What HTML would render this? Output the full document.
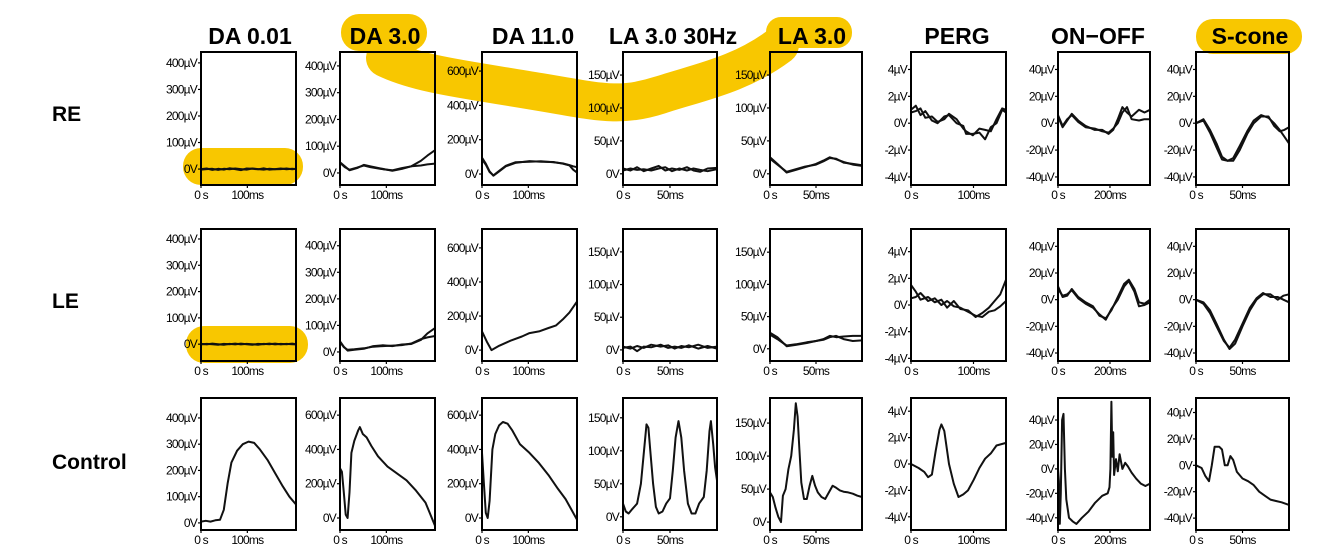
<!DOCTYPE html>
<html><head><meta charset="utf-8">
<style>
html,body{margin:0;padding:0;background:#fff;}
svg{display:block;}
.t{font-family:"Liberation Sans",sans-serif;font-weight:bold;font-size:23px;fill:#000;}
.r{font-family:"Liberation Sans",sans-serif;font-weight:bold;font-size:21px;fill:#000;}
.k{font-family:"Liberation Sans",sans-serif;font-size:12px;fill:#000;letter-spacing:-0.8px;}
</style></head>
<body>
<svg id="fig" width="1334" height="554" viewBox="0 0 1334 554">
  <g fill="#f8c700" stroke="none">
    <path d="M385,58 C420,75 470,80 540,92 C600,102 620,108 660,95 C700,82 740,75 780,45" fill="none" stroke="#f8c700" stroke-width="38" stroke-linecap="round"/>
    <rect x="341" y="14" width="86" height="37" rx="18"/>
    <rect x="766" y="17" width="86" height="31" rx="15"/>
    <rect x="1196" y="19" width="106" height="35" rx="17"/>
    <rect x="183" y="148" width="120" height="37" rx="18"/>
    <rect x="186" y="326" width="122" height="37" rx="18"/>
  </g>
  <g id="titleLayer">
    <text class="t" x="250" y="44" text-anchor="middle">DA 0.01</text>
    <text class="t" x="385" y="44" text-anchor="middle">DA 3.0</text>
    <text class="t" x="533" y="44" text-anchor="middle">DA 11.0</text>
    <text class="t" x="673" y="44" text-anchor="middle">LA 3.0 30Hz</text>
    <text class="t" x="812" y="44" text-anchor="middle">LA 3.0</text>
    <text class="t" x="957" y="44" text-anchor="middle">PERG</text>
    <text class="t" x="1098" y="44" text-anchor="middle">ON−OFF</text>
    <text class="t" x="1250" y="44" text-anchor="middle">S-cone</text>
    <text class="r" x="52" y="121">RE</text>
    <text class="r" x="52" y="308">LE</text>
    <text class="r" x="52" y="469">Control</text>
  </g>
  <g id="panelLayer"></g>
</svg>
<script>
var xTickLabels = ["100ms","100ms","100ms","50ms","50ms","100ms","200ms","50ms"];
var xTickValues = [100,100,100,50,50,100,200,50];
var sweepMs = [205,205,205,100,100,152,354,100];
var rowNames = ["re","le","control"];

var yTicksRow1 = [[0,100,200,300,400],[0,100,200,300,400],[0,200,400,600],[0,50,100,150],[0,50,100,150],[-4,-2,0,2,4],[-40,-20,0,20,40],[-40,-20,0,20,40]];
var yTicksRow3 = [[0,100,200,300,400],[0,200,400,600],[0,200,400,600],[0,50,100,150],[0,50,100,150],[-4,-2,0,2,4],[-40,-20,0,20,40],[-40,-20,0,20,40]];

var domRow1 = [[-60,441],[-45,452],[-64,711],[-17,185],[-17,185],[-4.6,5.3],[-46,53],[-46,53]];
var domRow2 = [[-64,438],[-34,463],[-64,711],[-17,185],[-19,186],[-4.2,5.7],[-46,53],[-46,53]];
var domRow3 = [[-27,476],[-70,700],[-70,700],[-20,180],[-12,188],[-5,5],[-50,58],[-49,51]];

var re1a=[[0,0],[6,2],[12,-3],[18,1],[24,-2],[30,3],[36,0],[42,-4],[48,2],[54,1],[60,-1],[66,3],[72,-2],[78,0],[84,2],[90,-1],[96,1],[100,0]];
var re1b=[[0,-2],[6,0],[12,1],[18,-3],[24,1],[30,-1],[36,2],[42,0],[48,-2],[54,2],[60,0],[66,-2],[72,1],[78,-1],[84,0],[90,2],[96,-1],[100,1]];
var re2a=[[0,40],[5,25],[10,10],[18,18],[25,30],[32,25],[45,15],[55,8],[65,15],[75,25],[85,45],[92,65],[100,85]];
var re2b=[[0,38],[5,22],[10,12],[18,20],[25,28],[32,22],[45,14],[55,10],[65,18],[75,25],[85,28],[92,32],[100,35]];
var re3a=[[0,95],[4,60],[8,15],[12,-10],[18,15],[25,45],[35,65],[50,75],[62,72],[75,70],[85,60],[92,50],[96,25],[100,8]];
var re3b=[[0,85],[4,55],[8,12],[12,-8],[18,18],[25,48],[35,68],[50,72],[62,74],[75,68],[85,62],[92,52],[96,45],[100,40]];
var re4a=[[0,8],[8,5],[15,10],[22,4],[30,8],[38,12],[45,5],[52,8],[60,6],[68,10],[75,5],[82,3],[90,8],[100,9]];
var re4b=[[0,5],[8,8],[15,6],[22,7],[30,5],[38,8],[45,10],[52,4],[60,8],[68,5],[75,8],[82,6],[90,4],[100,7]];
var re5a=[[0,25],[8,15],[18,2],[28,6],[38,10],[50,15],[58,20],[65,25],[72,22],[80,18],[90,14],[100,12]];
var re5b=[[0,23],[8,14],[18,3],[28,7],[38,11],[50,14],[58,19],[65,24],[72,23],[80,17],[90,15],[100,13]];
var re6a=[[0,1],[5,1.3],[10,0.6],[15,0.9],[22,0.2],[28,0],[35,0.5],[40,0.6],[48,0],[55,-0.2],[58,-0.8],[65,-0.8],[72,-0.7],[78,-1.2],[84,-0.3],[90,0],[96,1],[100,0.8]];
var re6b=[[0,0.8],[5,0.9],[10,1.1],[15,0.4],[22,0.5],[28,0.1],[35,0.3],[40,0.7],[48,0.3],[55,-0.4],[58,-0.6],[65,-0.9],[72,-0.4],[78,-0.5],[84,-0.6],[90,0.3],[96,1.1],[100,1]];
var re7a=[[0,5],[5,-3],[10,2],[15,7],[22,2],[30,-2],[40,-5],[48,-5],[55,-8],[60,-5],[65,3],[70,12],[75,8],[80,5],[88,10],[94,8],[100,10]];
var re7b=[[0,6],[5,-2],[10,3],[15,6],[22,1],[30,-3],[40,-4],[48,-6],[55,-7],[60,-4],[65,0],[70,8],[75,12],[80,3],[88,2],[94,3],[100,3]];
var re8a=[[0,0],[8,3],[15,-5],[22,-15],[28,-25],[34,-28],[40,-28],[47,-20],[55,-8],[62,0],[70,5],[78,5],[84,-2],[90,-6],[95,-5],[100,-3]];
var re8b=[[0,0],[8,2],[15,-7],[22,-18],[28,-27],[34,-28],[40,-26],[47,-17],[55,-6],[62,2],[70,6],[78,4],[84,0],[90,-5],[95,-10],[100,-15]];
var le1a=[[0,1],[6,-1],[12,2],[18,0],[24,-2],[30,1],[36,-1],[42,2],[48,0],[54,-2],[60,1],[66,0],[72,2],[78,-1],[84,1],[90,0],[96,2],[100,0]];
var le1b=[[0,-1],[6,1],[12,0],[18,-2],[24,1],[30,0],[36,2],[42,-1],[48,1],[54,0],[60,-2],[66,1],[72,0],[78,2],[84,-1],[90,1],[96,0],[100,-1]];
var le2a=[[0,40],[4,20],[8,5],[15,8],[25,12],[35,22],[45,25],[55,22],[65,28],[75,30],[85,45],[92,70],[100,90]];
var le2b=[[0,38],[4,18],[8,8],[15,10],[25,14],[35,20],[45,22],[55,24],[65,26],[75,32],[85,48],[92,55],[100,60]];
var le3a=[[0,110],[5,50],[10,0],[18,25],[30,55],[42,80],[50,100],[60,110],[70,130],[78,145],[85,180],[92,220],[100,285]];
var le4a=[[0,5],[8,2],[15,6],[22,3],[30,8],[40,5],[48,7],[55,2],[62,6],[70,4],[80,8],[90,3],[100,5]];
var le4b=[[0,3],[8,5],[15,-2],[22,5],[30,4],[40,8],[48,3],[55,5],[62,3],[70,7],[80,2],[90,6],[100,2]];
var le5a=[[0,25],[8,18],[18,4],[28,6],[40,9],[50,12],[58,15],[65,20],[72,18],[80,19],[90,20],[100,20]];
var le5b=[[0,22],[8,15],[18,5],[28,7],[40,10],[50,12],[58,14],[65,18],[72,20],[80,15],[90,12],[100,13]];
var le6a=[[0,1.5],[5,1],[10,0.4],[18,0.6],[25,0.2],[32,0.4],[38,-0.2],[45,0.3],[52,-0.3],[60,-0.4],[68,-0.9],[75,-0.6],[82,-0.2],[88,0.3],[94,0.8],[100,1.9]];
var le6b=[[0,0.5],[5,0.6],[10,0.9],[18,0.3],[25,0.5],[32,0],[38,0.3],[45,-0.1],[52,-0.2],[60,-0.5],[68,-0.8],[75,-0.9],[82,-0.5],[88,-0.4],[94,-0.1],[100,0.3]];
var le7a=[[0,10],[5,2],[10,3],[15,8],[22,2],[30,-2],[38,-5],[45,-12],[52,-14],[58,-8],[65,2],[72,12],[77,15],[83,8],[88,-2],[94,-3],[100,0]];
var le7b=[[0,8],[5,3],[10,4],[15,7],[22,1],[30,-3],[38,-6],[45,-11],[52,-15],[58,-7],[65,0],[72,10],[77,14],[83,6],[88,-5],[94,-4],[100,-2]];
var le8a=[[0,0],[8,-2],[15,-8],[22,-18],[30,-30],[36,-37],[42,-33],[50,-20],[58,-8],[65,0],[72,4],[80,4],[88,0],[94,3],[100,4]];
var le8b=[[0,0],[8,-3],[15,-10],[22,-20],[30,-31],[36,-36],[42,-30],[50,-18],[58,-6],[65,1],[72,5],[80,2],[88,2],[94,0],[100,-2]];
var ct1=[[0,5],[5,8],[10,5],[15,10],[20,12],[24,50],[28,150],[32,230],[38,275],[44,300],[50,310],[56,305],[62,280],[70,240],[78,190],[86,140],[93,100],[100,70]];
var ct2=[[0,290],[2,270],[4,150],[6,20],[8,0],[10,150],[12,380],[15,450],[19,510],[21,530],[24,490],[28,470],[33,420],[40,360],[50,300],[60,260],[70,220],[80,160],[90,90],[100,-45]];
var ct3=[[0,380],[2,200],[4,30],[6,0],[8,100],[11,400],[14,490],[18,540],[22,560],[27,550],[32,510],[40,430],[50,380],[60,320],[70,250],[80,170],[88,110],[94,50],[100,-10]];
var ct4=[[0,20],[3,8],[6,5],[10,12],[15,20],[19,50],[22,95],[25,140],[27,135],[29,100],[32,50],[35,15],[38,5],[42,8],[46,20],[50,28],[53,70],[56,120],[59,145],[62,120],[65,70],[69,20],[73,5],[77,5],[81,20],[86,30],[89,70],[92,130],[93.5,145],[96,110],[98,75],[100,55]];
var ct5=[[0,45],[3,38],[6,22],[9,8],[12,0],[14,40],[17,50],[20,80],[23,100],[26,140],[28,180],[30,160],[32,110],[34,60],[37,35],[40,35],[43,55],[46,70],[49,55],[52,45],[56,38],[60,35],[64,45],[68,55],[72,52],[76,48],[80,46],[85,45],[90,43],[95,40],[100,38]];
var ct6=[[0,0],[8,-0.3],[14,-0.6],[18,-1],[22,-0.8],[26,1],[30,2.6],[32,3],[35,2.5],[40,0],[45,-1.5],[50,-2.5],[55,-2.3],[60,-2],[66,-1.2],[72,-0.3],[78,0.4],[84,0.8],[90,1.4],[100,1.6]];
var ct7=[[0,0],[1,-10],[2,-45],[3,-20],[4.5,40],[6,45],[7.5,0],[9,-25],[12,-40],[16,-43],[20,-45],[26,-40],[33,-35],[40,-28],[48,-22],[54,-20],[56,-15],[57,0],[58,55],[59,10],[60,30],[61,-5],[63,8],[65,-2],[67,12],[70,0],[73,5],[76,2],[80,-3],[85,-8],[90,-12],[95,-14],[100,-12]];
var ct8=[[0,0],[6,-2],[10,-8],[14,-12],[17,0],[20,14],[25,14],[28,12],[31,0],[34,0],[37,7],[40,4],[44,-5],[50,-10],[56,-12],[62,-15],[68,-20],[74,-23],[80,-26],[86,-27],[92,-28],[100,-30]];

var row1Traces=[[re1a,re1b],[re2a,re2b],[re3a,re3b],[re4a,re4b],[re5a,re5b],[re6a,re6b],[re7a,re7b],[re8a,re8b]];
var row2Traces=[[le1a,le1b],[le2a,le2b],[le3a],[le4a,le4b],[le5a,le5b],[le6a,le6b],[le7a,le7b],[le8a,le8b]];
var row3Traces=[[ct1],[ct2],[ct3],[ct4],[ct5],[ct6],[ct7],[ct8]];

var colX=[[201,296],[340,435],[482,577],[623,717],[770,862],[911,1006],[1058,1150],[1196,1289]];
var rowY=[[52,185],[229,361],[398,530]];
var SVGNS="http://www.w3.org/2000/svg";

function mk(tag,attrs,parent){
  var e=document.createElementNS(SVGNS,tag);
  Object.keys(attrs).forEach(function(k){ e.setAttribute(k,String(attrs[k])); });
  parent.appendChild(e);
  return e;
}

var panelLayer=document.getElementById("panelLayer");
var domsAll=[domRow1,domRow2,domRow3];
var ticksAll=[yTicksRow1,yTicksRow1,yTicksRow3];
var tracesAll=[row1Traces,row2Traces,row3Traces];

function drawPanel(r,c){
  var x0=colX[c][0], x1=colX[c][1], y0=rowY[r][0], y1=rowY[r][1];
  var d0=domsAll[r][c][0], d1=domsAll[r][c][1];
  function xs(p){ return x0+(x1-x0)*p/100; }
  function xms(ms){ return x0+(x1-x0)*ms/sweepMs[c]; }
  function ys(v){ return y1-(y1-y0)*(v-d0)/(d1-d0); }
  var g=mk("g",{},panelLayer);
  
  
  tracesAll[r][c].forEach(function(tr){
    var d=tr.map(function(pt,q){ return (q?"L":"M")+xs(pt[0]).toFixed(1)+","+ys(pt[1]).toFixed(1); }).join("");
    var p=mk("path",{"d":d,"fill":"none","stroke":"#111","stroke-width":2,"stroke-linejoin":"round"},g);
    
    
  });
  var b=mk("rect",{"x":x0,"y":y0,"width":x1-x0,"height":y1-y0,"fill":"none","stroke":"#000","stroke-width":2},g);
  
  
  ticksAll[r][c].forEach(function(v){
    var y=ys(v);
    mk("line",{"x1":x0-3,"x2":x0,"y1":y,"y2":y,"stroke":"#000","stroke-width":1.2},g);
    var lt=mk("text",{"x":x0-4,"y":y+4,"text-anchor":"end","class":"k"},g);
    
    
    lt.textContent=(v===0)?"0V":(String(v)+"\u00b5V");
  });
  var xt=xms(xTickValues[c]);
  mk("line",{"x1":xt,"x2":xt,"y1":y1,"y2":y1+3,"stroke":"#000","stroke-width":1.2},g);
  mk("line",{"x1":x0,"x2":x0,"y1":y1,"y2":y1+3,"stroke":"#000","stroke-width":1.2},g);
  var t0=mk("text",{"x":x0,"y":y1+14,"text-anchor":"middle","class":"k"},g);
  
  
  t0.textContent="0 s";
  var t1=mk("text",{"x":xt,"y":y1+14,"text-anchor":"middle","class":"k"},g);
  
  
  t1.textContent=xTickLabels[c];
}

[0,1,2].forEach(function(r){
  [0,1,2,3,4,5,6,7].forEach(function(c){
    try { drawPanel(r,c); } catch(err) {}
  });
});
</script>
</body></html>
